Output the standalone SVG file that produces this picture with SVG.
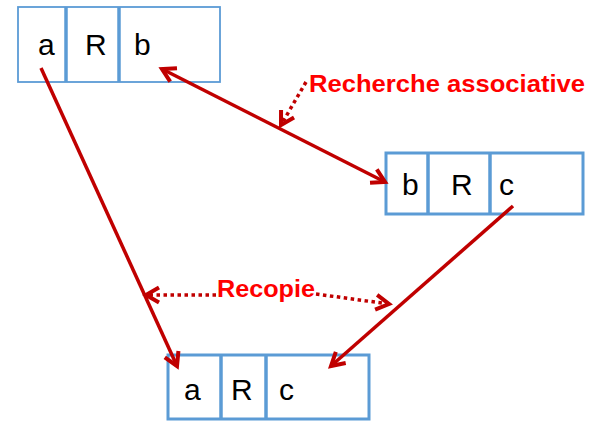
<svg xmlns="http://www.w3.org/2000/svg" width="592" height="422" viewBox="0 0 592 422">
<defs>
<style>
.box{fill:#fff;stroke:#5B9BD5;stroke-width:3}
.div{stroke:#5B9BD5;stroke-width:3.5}
.lbl{font-family:"Liberation Sans",Arial,sans-serif;font-size:30px;fill:#000}
.red{font-family:"Liberation Sans",Arial,sans-serif;font-weight:bold;font-size:24px;fill:#FF0000}
.ln{stroke:#C00000;stroke-width:3.5;fill:none}
.dot{stroke:#C00000;stroke-width:3.5;fill:none;stroke-dasharray:3.5 3.5}
</style>
<marker id="ah" markerUnits="userSpaceOnUse" viewBox="-16 -10 20 20" refX="0" refY="0" markerWidth="20" markerHeight="20" orient="auto">
<path d="M-13,-7.5 L0,0 L-13,7.5" fill="none" stroke="#C00000" stroke-width="4"/>
</marker>
<marker id="as" markerUnits="userSpaceOnUse" viewBox="-16 -10 20 20" refX="0" refY="0" markerWidth="20" markerHeight="20" orient="auto-start-reverse">
<path d="M-13,-7.5 L0,0 L-13,7.5" fill="none" stroke="#C00000" stroke-width="4"/>
</marker>
</defs>
<g id="node1">
<rect x="18" y="7" width="202" height="75" class="box" style="stroke-width:1.8"/>
<line x1="66" y1="7" x2="66" y2="82" class="div"/>
<line x1="119" y1="7" x2="119" y2="82" class="div"/>
<text x="38" y="55" class="lbl">a</text>
<text x="85" y="55" class="lbl">R</text>
<text x="134" y="55" class="lbl">b</text>
</g>
<g id="node2">
<rect x="386" y="153" width="197" height="61" class="box"/>
<line x1="428" y1="153" x2="428" y2="214" class="div"/>
<line x1="490" y1="153" x2="490" y2="214" class="div"/>
<text x="402" y="195" class="lbl">b</text>
<text x="451" y="195" class="lbl">R</text>
<text x="499" y="195" class="lbl">c</text>
</g>
<g id="node3">
<rect x="168" y="355" width="201" height="64" class="box"/>
<line x1="221" y1="355" x2="221" y2="419" class="div"/>
<line x1="266" y1="355" x2="266" y2="419" class="div"/>
<text x="184" y="400" class="lbl">a</text>
<text x="231" y="400" class="lbl">R</text>
<text x="279" y="400" class="lbl">c</text>
</g>
<g id="connectors">
<line x1="41" y1="68" x2="177" y2="366" class="ln" marker-end="url(#ah)"/>
<line x1="162" y1="69" x2="385" y2="182" class="ln" marker-start="url(#as)" marker-end="url(#ah)"/>
<line x1="513" y1="206" x2="331" y2="366" class="ln" marker-end="url(#ah)"/>
<line x1="306" y1="82" x2="281" y2="125" class="dot" marker-end="url(#ah)"/>
<line x1="216" y1="295" x2="146" y2="295" class="dot" marker-end="url(#ah)"/>
<line x1="316" y1="294" x2="389" y2="304" class="dot" marker-end="url(#ah)"/>
</g>
<g id="labels">
<text x="309" y="92" class="red" textLength="276" lengthAdjust="spacingAndGlyphs">Recherche associative</text>
<text x="217" y="297" class="red" textLength="98" lengthAdjust="spacingAndGlyphs">Recopie</text>
</g>
</svg>
